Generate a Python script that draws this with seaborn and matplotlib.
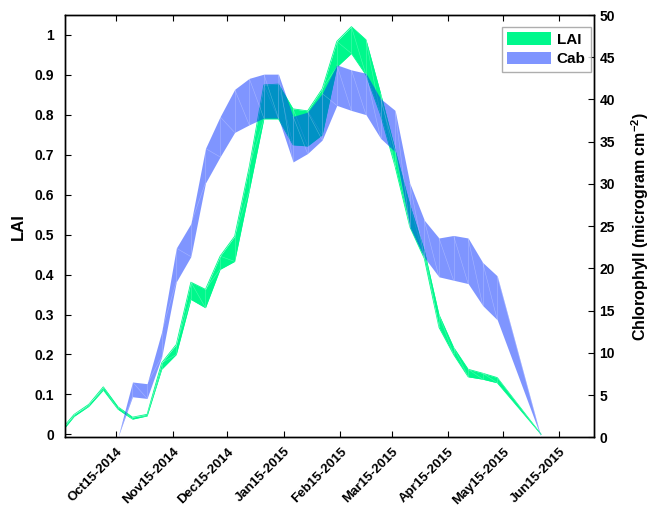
import numpy as np
import pandas as pd
import matplotlib
matplotlib.use("Agg")
import matplotlib.pyplot as plt
import matplotlib.dates as mdates
from matplotlib.patches import Patch
import seaborn as sns

# ---------------- data ----------------
lai_dates = ["2014-09-14", "2014-09-22", "2014-09-30", "2014-10-08", "2014-10-16",
             "2014-10-24", "2014-11-01", "2014-11-09", "2014-11-17", "2014-11-25",
             "2014-12-03", "2014-12-11", "2014-12-19", "2014-12-27", "2015-01-04",
             "2015-01-12", "2015-01-20", "2015-01-28", "2015-02-05", "2015-02-13",
             "2015-02-21", "2015-03-01", "2015-03-09", "2015-03-17", "2015-03-25",
             "2015-04-02", "2015-04-10", "2015-04-18", "2015-04-26", "2015-05-04",
             "2015-05-12", "2015-06-05"]
lai_low = [0.000, 0.045, 0.070, 0.111, 0.063, 0.038, 0.046, 0.163, 0.200, 0.338,
           0.317, 0.413, 0.433, 0.610, 0.790, 0.790, 0.725, 0.722, 0.750, 0.920,
           0.954, 0.900, 0.800, 0.670, 0.520, 0.440, 0.268, 0.200, 0.144, 0.138,
           0.129, 0.000]
lai_high = [0.007, 0.050, 0.075, 0.119, 0.069, 0.043, 0.050, 0.179, 0.225, 0.381,
            0.363, 0.446, 0.496, 0.670, 0.875, 0.877, 0.815, 0.810, 0.865, 0.984,
            1.021, 0.988, 0.854, 0.712, 0.575, 0.460, 0.300, 0.218, 0.163, 0.153,
            0.142, 0.000]

cab_dates = ["2014-10-16", "2014-10-24", "2014-11-01", "2014-11-09", "2014-11-17",
             "2014-11-25", "2014-12-03", "2014-12-11", "2014-12-19", "2014-12-27",
             "2015-01-04", "2015-01-12", "2015-01-20", "2015-01-28", "2015-02-05",
             "2015-02-13", "2015-02-21", "2015-03-01", "2015-03-09", "2015-03-17",
             "2015-03-25", "2015-04-02", "2015-04-10", "2015-04-18", "2015-04-26",
             "2015-05-04", "2015-05-12", "2015-06-05"]
cab_low = [0.0, 4.8, 4.6, 9.5, 18.4, 21.4, 30.1, 33.2, 36.1, 37.0, 37.8, 37.8,
           32.6, 33.6, 35.2, 39.3, 38.7, 38.2, 35.4, 33.8, 24.9, 21.3, 19.0, 18.6,
           18.2, 15.6, 13.9, 0.0]
cab_high = [0.0, 6.55, 6.35, 12.5, 22.4, 25.3, 34.2, 37.95, 41.2, 42.5, 43.0, 43.0,
            38.0, 38.5, 40.7, 44.1, 43.5, 43.1, 40.1, 38.7, 30.1, 25.7, 23.6, 23.9,
            23.6, 20.7, 19.1, 0.0]

tick_dates = ["2014-10-15", "2014-11-15", "2014-12-15", "2015-01-15", "2015-02-15",
              "2015-03-15", "2015-04-15", "2015-05-15", "2015-06-15"]
lai_ticks = [0, 0.1, 0.2, 0.3, 0.4, 0.5, 0.6, 0.7, 0.8, 0.9, 1]
cab_ticks = [0, 5, 10, 15, 20, 25, 30, 35, 40, 45, 50]
series_names = ["LAI", "Cab"]

# ---------------- style ----------------
sns.set_theme(style="ticks")
plt.rcParams["font.family"] = ["Liberation Sans", "DejaVu Sans"]
plt.rcParams["font.weight"] = "bold"
plt.rcParams["text.color"] = "black"
plt.rcParams["axes.labelcolor"] = "black"
plt.rcParams["xtick.color"] = "black"
plt.rcParams["ytick.color"] = "black"
plt.rcParams["mathtext.fontset"] = "custom"
plt.rcParams["mathtext.rm"] = "Liberation Sans:bold"
plt.rcParams["mathtext.it"] = "Liberation Sans:bold"
plt.rcParams["mathtext.bf"] = "Liberation Sans:bold"

GREEN = "#00F88C"
BLUE = "#002DFF"
BLUE_ALPHA = 0.5

lai_df = pd.DataFrame({"date": pd.to_datetime(lai_dates), "low": lai_low, "high": lai_high})
cab_df = pd.DataFrame({"date": pd.to_datetime(cab_dates), "low": cab_low, "high": cab_high})

fig = plt.figure(figsize=(6.5, 5.14), dpi=100)
ax = fig.add_axes([0.1, 0.1492, 0.8138, 0.8216])
ax2 = ax.twinx()


def faint_mesh(a, df, zorder):
    """Light triangulation seams, as in the rendered fill of the original."""
    d = mdates.date2num(df["date"])
    lo = df["low"].to_numpy()
    hi = df["high"].to_numpy()
    for i in range(len(d)):
        a.plot([d[i], d[i]], [lo[i], hi[i]], color="white", lw=0.4, alpha=0.3,
               zorder=zorder)
        if i + 1 < len(d):
            a.plot([d[i], d[i + 1]], [hi[i], lo[i + 1]], color="white", lw=0.4,
                   alpha=0.3, zorder=zorder)


# LAI band
ax.fill_between(lai_df["date"], lai_df["low"], lai_df["high"], color=GREEN, lw=0)
sns.lineplot(data=lai_df, x="date", y="low", ax=ax, color=GREEN, lw=0.6)
sns.lineplot(data=lai_df, x="date", y="high", ax=ax, color=GREEN, lw=0.6)
faint_mesh(ax, lai_df, 3)

# Cab band (semi-transparent, drawn above LAI)
ax2.fill_between(cab_df["date"], cab_df["low"], cab_df["high"], color=BLUE,
                 alpha=BLUE_ALPHA, lw=0)
faint_mesh(ax2, cab_df, 3)

# axes limits
ax.set_xlim(pd.Timestamp("2014-09-17"), pd.Timestamp("2015-07-04"))
ax.set_ylim(-0.0075, 1.05)
ax2.set_ylim(0, 50)

# ticks
ax.set_xticks(pd.to_datetime(tick_dates))
ax.xaxis.set_major_formatter(mdates.DateFormatter("%b%d-%Y"))
ax.set_yticks(lai_ticks)
ax.set_yticklabels([f"{v:g}" for v in lai_ticks])
ax2.set_yticks(cab_ticks)

ax.tick_params(axis="x", direction="in", length=4, width=0.8, top=True,
               labelsize=9.5, pad=6, colors="black")
ax.tick_params(axis="y", direction="in", length=4, width=0.8, right=False,
               labelsize=10, pad=8, colors="black")
ax2.tick_params(axis="y", direction="in", length=4, width=0.8, labelsize=10,
                pad=4, colors="black")
for lbl in ax.get_xticklabels():
    lbl.set_rotation(45)
    lbl.set_ha("right")
    lbl.set_rotation_mode("anchor")
    lbl.set_fontweight("bold")
for lbl in ax.get_yticklabels() + ax2.get_yticklabels():
    lbl.set_fontweight("bold")

for a in (ax, ax2):
    for s in a.spines.values():
        s.set_visible(True)
        s.set_color("black")
        s.set_linewidth(1.0)

ax.set_xlabel("")
ax.set_ylabel("LAI", fontsize=12, fontweight="bold", labelpad=6, color="black")
ax2.set_ylabel("Chlorophyll (microgram cm$^{-2}$)", fontsize=11.5,
               fontweight="bold", labelpad=10, color="black")

handles = [Patch(facecolor=GREEN, edgecolor="none"),
           Patch(facecolor=BLUE, alpha=BLUE_ALPHA, edgecolor="none")]
leg = ax2.legend(handles, series_names, loc="upper right",
                 bbox_to_anchor=(0.9943, 0.9716), borderaxespad=0,
                 fontsize=11, frameon=True, fancybox=False,
                 handlelength=2.9, handleheight=0.9, labelspacing=0.3,
                 handletextpad=0.35, borderpad=0.35)
leg.get_frame().set_edgecolor("#9A9A9A")
leg.get_frame().set_linewidth(1.0)
for t in leg.get_texts():
    t.set_fontweight("bold")
    t.set_color("black")

fig.savefig("out.png", dpi=100)
